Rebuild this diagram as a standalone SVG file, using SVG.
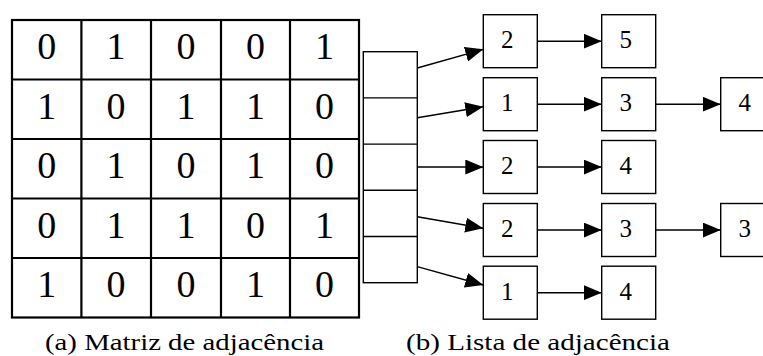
<svg xmlns="http://www.w3.org/2000/svg" width="763" height="356" viewBox="0 0 763 356">
  <style>
    text { font-family: 'Liberation Serif', 'DejaVu Serif', serif; fill: #000; }
    .grid { fill: none; stroke: #000; stroke-width: 2.2; }
    .mval { font-size: 38px; text-anchor: middle; }
    .box { fill: #fff; stroke: #000; stroke-width: 1.4; }
    .nval { font-size: 25px; text-anchor: middle; }
    .edge { fill: none; stroke: #000; stroke-width: 1.4; marker-end: url(#arrow); }
    .caption { font-size: 23px; }
  </style>
  <defs>
    <marker id="arrow" viewBox="0 0 18 15" refX="18" refY="7.5" markerWidth="18" markerHeight="15" markerUnits="userSpaceOnUse" orient="auto">
      <path d="M0,0 L18,7.5 L0,15 z" fill="#000"/>
    </marker>
  </defs>
  <rect width="763" height="356" fill="#fff"/>

  <!-- adjacency matrix -->
  <g id="matrix">
    <rect class="grid" x="12" y="20" width="347" height="297.5"/>
    <path class="grid" d="M81.4,20 V317.5 M151,20 V317.5 M221,20 V317.5 M290,20 V317.5 M12,79.5 H359 M12,139 H359 M12,198.5 H359 M12,258 H359"/>
    <text class="mval" x="46.7" y="59">0</text><text class="mval" x="116" y="59">1</text><text class="mval" x="186" y="59">0</text><text class="mval" x="255.5" y="59">0</text><text class="mval" x="324.5" y="59">1</text>
    <text class="mval" x="46.7" y="118.5">1</text><text class="mval" x="116" y="118.5">0</text><text class="mval" x="186" y="118.5">1</text><text class="mval" x="255.5" y="118.5">1</text><text class="mval" x="324.5" y="118.5">0</text>
    <text class="mval" x="46.7" y="178">0</text><text class="mval" x="116" y="178">1</text><text class="mval" x="186" y="178">0</text><text class="mval" x="255.5" y="178">1</text><text class="mval" x="324.5" y="178">0</text>
    <text class="mval" x="46.7" y="237.5">0</text><text class="mval" x="116" y="237.5">1</text><text class="mval" x="186" y="237.5">1</text><text class="mval" x="255.5" y="237.5">0</text><text class="mval" x="324.5" y="237.5">1</text>
    <text class="mval" x="46.7" y="297">1</text><text class="mval" x="116" y="297">0</text><text class="mval" x="186" y="297">0</text><text class="mval" x="255.5" y="297">1</text><text class="mval" x="324.5" y="297">0</text>
  </g>

  <!-- vertex array -->
  <g id="heads">
    <rect class="box" x="363.3" y="51.7" width="54" height="231"/>
    <path class="box" d="M363.3,97.9 H417.3 M363.3,144.1 H417.3 M363.3,190.3 H417.3 M363.3,236.5 H417.3"/>
  </g>

  <!-- list nodes -->
  <g id="n1a"><rect class="box" x="483.3" y="14.7" width="54" height="53"/><text class="nval" x="507.3" y="48">2</text></g>
  <g id="n1b"><rect class="box" x="601.7" y="14.7" width="54" height="53"/><text class="nval" x="625.7" y="48">5</text></g>

  <g id="n2a"><rect class="box" x="483.3" y="77.7" width="54" height="53"/><text class="nval" x="507.3" y="111">1</text></g>
  <g id="n2b"><rect class="box" x="601.7" y="77.7" width="54" height="53"/><text class="nval" x="625.7" y="111">3</text></g>
  <g id="n2c"><rect class="box" x="720.7" y="77.7" width="54" height="53"/><text class="nval" x="744.7" y="111">4</text></g>

  <g id="n3a"><rect class="box" x="483.3" y="140.5" width="54" height="53"/><text class="nval" x="507.3" y="173.8">2</text></g>
  <g id="n3b"><rect class="box" x="601.7" y="140.5" width="54" height="53"/><text class="nval" x="625.7" y="173.8">4</text></g>

  <g id="n4a"><rect class="box" x="483.3" y="203.5" width="54" height="53"/><text class="nval" x="507.3" y="236.8">2</text></g>
  <g id="n4b"><rect class="box" x="601.7" y="203.5" width="54" height="53"/><text class="nval" x="625.7" y="236.8">3</text></g>
  <g id="n4c"><rect class="box" x="720.7" y="203.5" width="54" height="53"/><text class="nval" x="744.7" y="236.8">3</text></g>

  <g id="n5a"><rect class="box" x="483.3" y="266.2" width="54" height="53"/><text class="nval" x="507.3" y="299.5">1</text></g>
  <g id="n5b"><rect class="box" x="601.7" y="266.2" width="54" height="53"/><text class="nval" x="625.7" y="299.5">4</text></g>

  <!-- connectors -->
  <g id="edges">
    <path class="edge" d="M417.3,68 L483.3,49.3"/>
    <path class="edge" d="M417.3,117.7 L483.3,106.7"/>
    <path class="edge" d="M417.3,167 L483.3,167"/>
    <path class="edge" d="M417.3,216.7 L483.3,228.3"/>
    <path class="edge" d="M417.3,266.7 L483.3,285"/>

    <path class="edge" d="M537.3,41.2 L601.7,41.2"/>
    <path class="edge" d="M537.3,104.2 L601.7,104.2"/>
    <path class="edge" d="M655.7,104.2 L720.7,104.2"/>
    <path class="edge" d="M537.3,167 L601.7,167"/>
    <path class="edge" d="M537.3,230 L601.7,230"/>
    <path class="edge" d="M655.7,230 L720.7,230"/>
    <path class="edge" d="M537.3,292.7 L601.7,292.7"/>
  </g>

  <!-- captions -->
  <text class="caption" x="45" y="350" textLength="279" lengthAdjust="spacingAndGlyphs">(a) Matriz de adjacência</text>
  <text class="caption" x="406" y="350" textLength="264" lengthAdjust="spacingAndGlyphs">(b) Lista de adjacência</text>
</svg>
